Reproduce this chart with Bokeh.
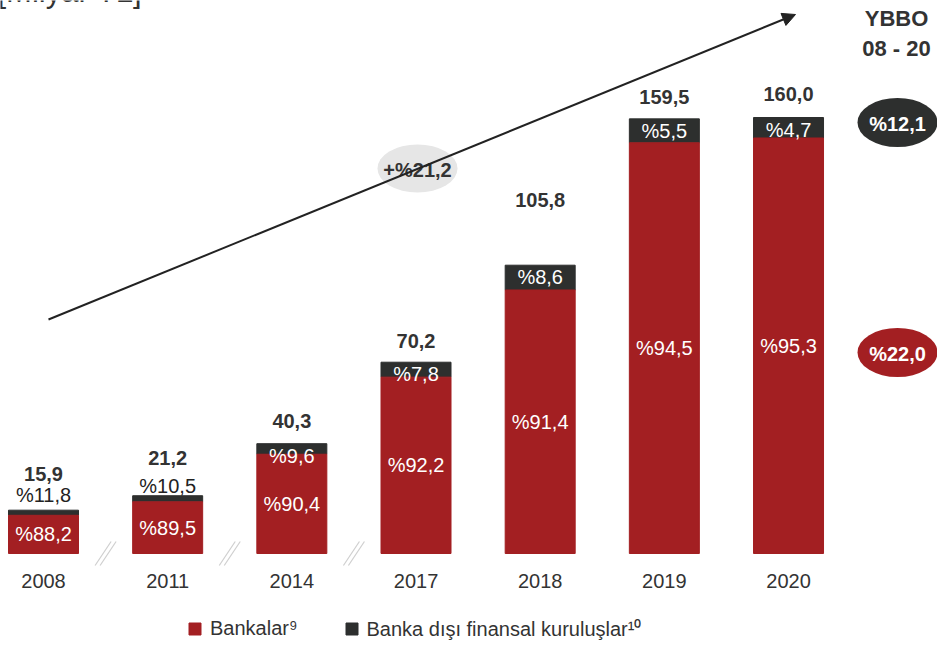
from bokeh.plotting import figure
from bokeh.models import ColumnDataSource, Arrow, NormalHead, Legend, LegendItem, Range1d
from bokeh.core.properties import value
from bokeh.embed import file_html
from bokeh.resources import INLINE

# ---- data ----
years = ["2008", "2011", "2014", "2017", "2018", "2019", "2020"]
totals = [15.9, 21.2, 40.3, 70.2, 105.8, 159.5, 160.0]
bank_share = [88.2, 89.5, 90.4, 92.2, 91.4, 94.5, 95.3]
nonbank_share = [11.8, 10.5, 9.6, 7.8, 8.6, 5.5, 4.7]
cagr_total = "+%21,2"
cagr_bank = "%22,0"
cagr_nonbank = "%12,1"
unit_label = "[Milyar TL]"
cagr_title = ["YBBO", "08 - 20"]
series_names = ["Bankalar\u2079", "Banka dışı finansal kuruluşlar\u00b9\u2070"]

# ---- style ----
RED = "#a31f22"
DARK = "#2d2f2e"
TXT = "#333333"
FONT = "Liberation Sans"
W, H = 937, 645
PXU = 124.17          # pixels per category step
X0 = -43 / PXU
PYU = 2.725           # pixels per unit
BASE = 553

def px2x(px):
    return px / PXU + X0

def py2y(py):
    return (BASE - py) / PYU

def fmt(v):
    return f"{v:.1f}".replace(".", ",")

idx = list(range(len(years)))
bank_vals = [t * s / 100 for t, s in zip(totals, bank_share)]

src = ColumnDataSource(dict(
    x=idx, total=totals, bank=bank_vals, zero=[0] * len(idx),
    bank_lbl=["%" + fmt(s) for s in bank_share],
    bank_y=[b / 2 for b in bank_vals],
    total_lbl=[fmt(t) for t in totals],
    year=years,
))

p = figure(width=W, height=H, output_backend="svg", toolbar_location=None,
           x_range=Range1d(X0, X0 + W / PXU), y_range=Range1d(-(H - BASE) / PYU, BASE / PYU),
           x_axis_location=None, y_axis_location=None,
           min_border=0, min_border_left=0, min_border_right=0,
           min_border_top=0, min_border_bottom=0, outline_line_color=None)
p.margin = (0, 0, 0, 0)
p.xgrid.visible = False
p.ygrid.visible = False
p.background_fill_color = "white"

BW = 70 / PXU
r_dark = p.vbar(x="x", bottom="bank", top="total", width=BW, color=DARK, source=src)
r_red = p.vbar(x="x", bottom="zero", top="bank", width=BW, color=RED, source=src)

# red share labels
p.text(x="x", y="bank_y", text="bank_lbl", source=src, text_color="white",
       text_font=value(FONT), text_font_size="20px", text_align="center", text_baseline="middle")

# dark share labels
small = [i for i in idx if totals[i] < 30]
big = [i for i in idx if totals[i] >= 30]
above_off = {0: -15, 1: -10}
p.text(x=[i for i in small], y=[totals[i] for i in small],
       text=["%" + fmt(nonbank_share[i]) for i in small],
       y_offset=[above_off[i] for i in small],
       text_color="#222222", text_font=value(FONT), text_font_size="20px",
       text_align="center", text_baseline="middle")
p.text(x=big, y=[totals[i] for i in big],
       text=["%" + fmt(nonbank_share[i]) for i in big], y_offset=12,
       text_color="white", text_font=value(FONT), text_font_size="20px",
       text_align="center", text_baseline="middle")

# totals
tot_off = [-36, -38, -23, -21, -65, -22, -24]
p.text(x=idx, y=totals, text=[fmt(t) for t in totals], y_offset=tot_off,
       text_color=TXT, text_font=value(FONT), text_font_size="20px", text_font_style="bold",
       text_align="center", text_baseline="middle")

# year labels
p.text(x="x", y="zero", text="year", source=src, y_offset=27, text_color=TXT,
       text_font=value(FONT), text_font_size="20px", text_align="center", text_baseline="middle")

# axis break marks between non-consecutive years
for k in range(3):
    mx = (idx[k] + idx[k + 1]) / 2
    for dx in (-2.5, 2.5):
        p.segment(x0=mx + (dx - 8) / PXU, y0=-12 / PYU, x1=mx + (dx + 8) / PXU, y1=12 / PYU,
                  line_color="#cfcfcf", line_width=1.2)

# growth arrow
p.add_layout(Arrow(x_start=px2x(48), y_start=py2y(319), x_end=px2x(795), y_end=py2y(14),
                   line_color="#222222", line_width=2,
                   end=NormalHead(size=13, fill_color="#222222", line_color="#222222")))
p.ellipse(x=[px2x(417)], y=[py2y(168)], width=80, height=48, width_units="screen",
          height_units="screen", fill_color="#e6e6e6", line_color=None)
p.text(x=[px2x(417)], y=[py2y(169)], text=[cagr_total], text_color=TXT, text_font=value(FONT),
       text_font_size="20px", text_font_style="bold", text_align="center", text_baseline="middle")

# right-side CAGR column
p.text(x=[px2x(896)] * 2, y=[py2y(18), py2y(48)], text=cagr_title, text_color=TXT,
       text_font=value(FONT), text_font_size="22px", text_font_style="bold",
       text_align="center", text_baseline="middle")
p.ellipse(x=[px2x(897)] * 2, y=[py2y(122), py2y(352)], width=80, height=49,
          width_units="screen", height_units="screen", fill_color=[DARK, RED], line_color=None)
p.text(x=[px2x(897)] * 2, y=[py2y(123), py2y(353)], text=[cagr_nonbank, cagr_bank],
       text_color="white", text_font=value(FONT), text_font_size="20px", text_font_style="bold",
       text_align="center", text_baseline="middle")

# unit header (mostly cut off at the top, as in the original)
p.text(x=[px2x(-3)], y=[py2y(-9)], text=[unit_label], text_color=TXT, text_font=value(FONT),
       text_font_size="31px", text_align="left", text_baseline="alphabetic")

legend = Legend(items=[LegendItem(label=series_names[0], renderers=[r_red]),
                       LegendItem(label=series_names[1], renderers=[r_dark])],
                orientation="horizontal", location=(187, 3), padding=0, margin=0,
                spacing=46, glyph_width=15, glyph_height=15, label_standoff=8,
                label_text_font=FONT, label_text_font_size="20px", label_text_color=TXT,
                border_line_color=None, background_fill_alpha=0)
p.add_layout(legend, "center")

open("out.html", "w").write(file_html(p, INLINE))
